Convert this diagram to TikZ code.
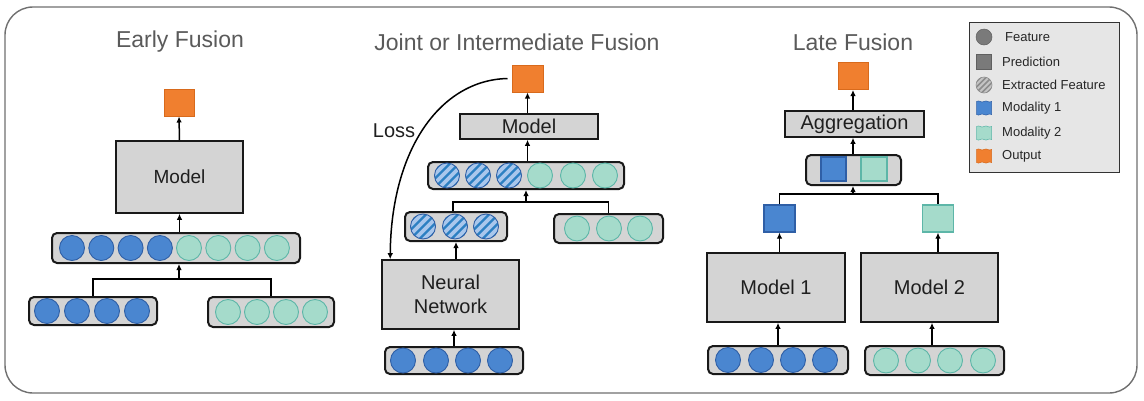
\documentclass[tikz,border=0pt]{standalone}
\usepackage{fontspec}
\setmainfont{Liberation Sans}
\usetikzlibrary{arrows.meta}
\definecolor{mblue}{HTML}{4A86D0}
\definecolor{mbluedk}{HTML}{2F5FA6}
\definecolor{mteal}{HTML}{A5DBCB}
\definecolor{mtealdk}{HTML}{5DB6A8}
\definecolor{morange}{HTML}{F07F2F}
\definecolor{morangedk}{HTML}{D86A1C}
\definecolor{boxgray}{HTML}{D4D4D4}
\definecolor{hblue}{HTML}{A9C7EC}
\definecolor{hstripe}{HTML}{2C80C2}
\definecolor{leggray}{HTML}{E6E6E6}
\definecolor{titlegray}{HTML}{5A5A5A}
\definecolor{framegray}{HTML}{707070}
\definecolor{iconfill}{HTML}{7A7A7A}
\definecolor{icondk}{HTML}{606060}
\definecolor{iconlight}{HTML}{C4C4C4}
\definecolor{iconstripe}{HTML}{8C8C8C}
\tikzset{
  frame/.style={draw=framegray, line width=1.4pt, rounded corners=28pt},
  modelbox/.style={draw=black!90, fill=boxgray, line width=1.6pt, inner sep=0pt,
    font=\fontsize{20}{23}\selectfont, text=black!88, align=center},
  barbox/.style={draw=black!90, fill=boxgray, line width=2pt, rounded corners=5pt, inner sep=0pt},
  bfeat/.style={circle, draw=mbluedk, fill=mblue, line width=0.9pt, minimum size=25pt, inner sep=0pt},
  tfeat/.style={circle, draw=mtealdk, fill=mteal, line width=0.9pt, minimum size=25pt, inner sep=0pt},
  hfeat/.style={circle, draw=mbluedk, fill=hblue, line width=0.9pt, minimum size=25pt, inner sep=0pt,
    path picture={\foreach \k in {-3,...,3}
      \draw[hstripe, line width=2.4pt]
        ([shift={(\k*9pt-20pt,-20pt)}]path picture bounding box.center) -- ++(40pt,40pt);}},
  outsq/.style={draw=morangedk, fill=morange, line width=1pt, inner sep=0pt,
    minimum width=30pt, minimum height=27pt},
  bsq/.style={draw=mbluedk, fill=mblue, line width=1.2pt, inner sep=0pt},
  tsq/.style={draw=mtealdk, fill=mteal, line width=1.2pt, inner sep=0pt},
  arr/.style={-{Latex[length=6pt,width=5.5pt]}, line width=1.5pt, black},
  link/.style={line width=1.5pt, black},
  title/.style={font=\fontsize{23}{27}\selectfont, text=titlegray, inner sep=0pt},
  legtext/.style={font=\fontsize{13}{15}\selectfont, anchor=west, text=black!85, inner sep=0pt},
  flag/.pic={\path[pic actions] (-7.5,-6.5) .. controls (-4.5,-8.5) and (-3,-4.5) .. (0,-6.5)
      .. controls (3,-8.5) and (4.5,-4.5) .. (7.5,-6.5) -- (7.5,6.5)
      .. controls (4.5,4.5) and (3,8.5) .. (0,6.5)
      .. controls (-3,4.5) and (-4.5,8.5) .. (-7.5,6.5) -- cycle;}
}
\begin{document}
\begin{tikzpicture}[x=1pt,y=-1pt]
\useasboundingbox (0,0) rectangle (1144,400);
\fill[white] (0,0) rectangle (1144,400);
\draw[frame] (5,7) rectangle (1137,393);

% ---------------- Early Fusion ----------------
\node[title] (t1) at (180,42) {Early Fusion};
\node[outsq] (o1) at (179,102.5) {};
\node[modelbox, minimum width=127pt, minimum height=72pt, font=\fontsize{19}{22}\selectfont] (m1) at (179.5,177) {Model};
\node[barbox, minimum width=248pt, minimum height=30pt] (cat1) at (176,248) {};
\foreach \i in {0,...,3} \node[bfeat] (cat1b\i) at (72+29.3*\i,248) {};
\foreach \i in {0,...,3} \node[tfeat] (cat1t\i) at (189+29.3*\i,248) {};
\node[barbox, minimum width=128pt, minimum height=28pt] (e1l) at (93,311) {};
\foreach \i in {0,...,3} \node[bfeat] (e1lc\i) at (47+30*\i,311) {};
\node[barbox, minimum width=126pt, minimum height=30pt] (e1r) at (271,312) {};
\foreach \i in {0,...,3} \node[tfeat] (e1rc\i) at (228+29*\i,312) {};
\coordinate (br1) at (179,279);
\draw[link] (e1l.north) |- (br1) -| (e1r.north);
\draw[arr] (br1) -- (br1 |- cat1.south);
\draw[arr] (m1.south |- cat1.north) -- (m1.south);
\draw[arr] (m1.north) -- (o1.south);

% ---------------- Joint Fusion ----------------
\node[title] (t2) at (517,42) {Joint or Intermediate Fusion};
\node[outsq, minimum width=31pt] (o2) at (527.5,78.5) {};
\node[modelbox, minimum width=138pt, minimum height=25pt] (m2) at (529,126.5) {Model};
\draw[arr] (o2.south |- m2.north) -- (o2.south);
\node[barbox, minimum width=196pt, minimum height=27pt] (cat2) at (526,175.5) {};
\foreach \x [count=\i] in {447,478,509} \node[hfeat] (cat2h\i) at (\x,175.5) {};
\foreach \x [count=\i] in {540,573,605} \node[tfeat] (cat2t\i) at (\x,175.5) {};
\draw[arr] (o2.south |- cat2.north) -- (o2.south |- m2.south);
\node[barbox, minimum width=102pt, minimum height=29pt] (hb) at (456,226.5) {};
\foreach \x [count=\i] in {423,455,486} \node[hfeat] (hbc\i) at (\x,226.5) {};
\node[barbox, minimum width=109pt, minimum height=29pt] (tb) at (608.5,228.5) {};
\foreach \x [count=\i] in {577,609,640} \node[tfeat] (tbc\i) at (\x,228.5) {};
\coordinate (br2) at (526,202);
\draw[link] ([xshift=-3pt]hb.north) |- (br2) -| (tb.north);
\draw[arr] (br2) -- (br2 |- cat2.south);
\node[modelbox, minimum width=137pt, minimum height=69pt, font=\fontsize{20}{24}\selectfont] (nn) at (450.5,294.5) {Neural\\Network};
\draw[arr] (hb.south |- nn.north) -- (hb.south);
\node[barbox, minimum width=138pt, minimum height=27pt] (bb) at (454,360.5) {};
\foreach \x [count=\i] in {403,436,468,500} \node[bfeat] (bbc\i) at (\x,360.5) {};
\draw[arr] (bb.north) -- (bb.north |- nn.south);
\coordinate (lossend) at ([xshift=9pt]nn.north west);
\draw[arr] ([xshift=-4pt]o2.west) .. controls (440,80) and (391,150) .. (lossend);
\node[font=\fontsize{20}{23}\selectfont, text=black!88, inner sep=0pt] (loss) at (394,131) {Loss};

% ---------------- Late Fusion ----------------
\node[title] (t3) at (853,42) {Late Fusion};
\node[outsq] (o3) at (853,76) {};
\node[modelbox, minimum width=139pt, minimum height=26pt] (agg) at (854.5,124) {Aggregation};
\draw[arr] (o3.south |- agg.north) -- (o3.south);
\node[barbox, minimum width=95pt, minimum height=30pt] (pbar) at (853.5,170) {};
\node[bsq, minimum width=25pt, minimum height=24pt] (ps1) at (833.5,169) {};
\node[tsq, minimum width=26pt, minimum height=24pt] (ps2) at (874,169) {};
\draw[arr] (o3.south |- pbar.north) -- (o3.south |- agg.south);
\coordinate (br3) at (853,194);
\node[bsq, minimum width=31pt, minimum height=27pt] (p1) at (779.5,218.5) {};
\node[tsq, minimum width=31pt, minimum height=27pt] (p2) at (938,218.5) {};
\draw[link] (p1.north) |- (br3) -| (p2.north);
\draw[arr] (br3) -- (br3 |- pbar.south);
\node[modelbox, minimum width=138pt, minimum height=69pt] (lm1) at (776,287.5) {Model 1};
\node[modelbox, minimum width=137pt, minimum height=69pt] (lm2) at (929.5,287.5) {Model 2};
\draw[arr] (p1.south |- lm1.north) -- (p1.south);
\draw[arr] (p2.south |- lm2.north) -- (p2.south);
\node[barbox, minimum width=140pt, minimum height=28pt] (lb1) at (778,360) {};
\foreach \x [count=\i] in {728,761,793,825} \node[bfeat] (lb1c\i) at (\x,360) {};
\node[barbox, minimum width=139pt, minimum height=29pt] (lb2) at (934.5,360.5) {};
\foreach \x [count=\i] in {886,918,950,983} \node[tfeat] (lb2c\i) at (\x,360.5) {};
\draw[arr] (lb1.north) -- (lb1.north |- lm1.south);
\draw[arr] ([xshift=-2.5pt]lb2.north) -- ([xshift=-2.5pt]lb2.north |- lm2.south);

% ---------------- Legend ----------------
\node[draw=black!80, fill=leggray, line width=1pt, minimum width=150pt, minimum height=150pt, inner sep=0pt] (leg) at (1044,97) {};
\node[circle, fill=iconfill, draw=icondk, line width=0.5pt, minimum size=16pt, inner sep=0pt] (li1) at (984,37) {};
\node[legtext] (lt1) at (1005,37) {Feature};
\node[fill=iconfill, draw=icondk, line width=0.5pt, minimum size=15pt, inner sep=0pt] (li2) at (984,62) {};
\node[legtext] (lt2) at (1002,62) {Prediction};
\node[circle, fill=iconlight, draw=iconstripe, line width=0.6pt, minimum size=16pt, inner sep=0pt,
  path picture={\foreach \k in {-2,...,2}
      \draw[iconstripe, line width=1.6pt]
        ([shift={(\k*5.5pt-14pt,-14pt)}]path picture bounding box.center) -- ++(28pt,28pt);}] (li3) at (984,85) {};
\node[legtext] (lt3) at (1002,85) {Extracted Feature};
\pic[fill=mblue, draw=mbluedk, line width=0.5pt] at (984,108) {flag};
\node[legtext] (lt4) at (1002,108) {Modality 1};
\pic[fill=mteal, draw=mtealdk, line width=0.5pt] at (984,133) {flag};
\node[legtext] (lt5) at (1002,133) {Modality 2};
\pic[fill=morange, draw=morangedk, line width=0.5pt] at (984,156) {flag};
\node[legtext] (lt6) at (1002,156) {Output};
\end{tikzpicture}
\end{document}
